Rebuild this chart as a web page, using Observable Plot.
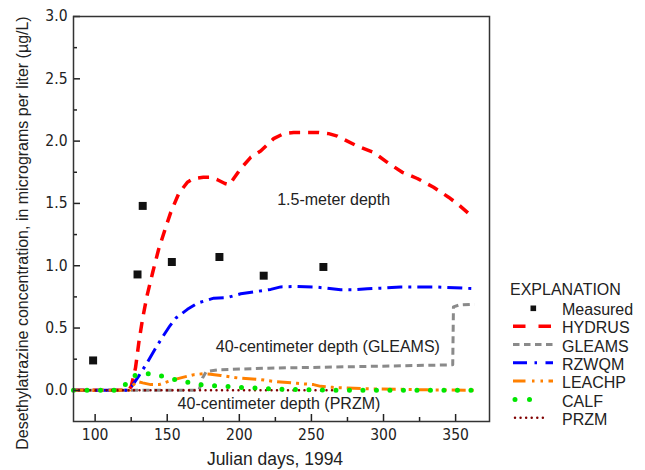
<!DOCTYPE html>
<html><head><meta charset="utf-8">
<script src="https://cdn.jsdelivr.net/npm/d3@7"></script>
<script src="https://cdn.jsdelivr.net/npm/@observablehq/plot@0.6"></script>
<style>
body{margin:0;background:#fff;}
#wrap{position:relative;width:645px;height:470px;}
#wrap svg{position:absolute;left:0;top:0;}
</style></head><body><div id="wrap"></div>
<script>
// ---- data (Julian day, concentration in µg/L) ----
const measuredDay  = [98.6, 129.4, 133.0, 153.2, 186.2, 216.9, 258.3];
const measuredConc = [0.24, 0.93, 1.48, 1.03, 1.07, 0.92, 0.99];

const hydrus = [[85,0],[123,0],[125,0.03],[128,0.18],[130.5,0.40],[133,0.58],[136,0.76],[140,0.95],[144,1.13],[149,1.31],[152.5,1.43],[158,1.58],[164,1.67],[168.4,1.70],[175,1.71],[180.2,1.71],[184.8,1.69],[190,1.66],[193,1.65],[196.1,1.70],[201,1.78],[207.9,1.87],[214.8,1.92],[223.8,2.02],[230.8,2.06],[237.7,2.07],[255,2.07],[262,2.06],[268,2.04],[281.8,1.96],[293.1,1.91],[302.6,1.83],[313,1.75],[323.4,1.70],[334.7,1.63],[345.1,1.55],[352,1.49],[359,1.42]];
const gleams = [[85,0],[172,0],[174.5,0.10],[177,0.15],[185,0.165],[220,0.178],[280,0.19],[348,0.205],[348.5,0.67],[352.3,0.684],[360.4,0.69],[363,0.69]];
const rzwqm  = [[85,0],[123.5,0],[130,0.11],[136,0.22],[142,0.34],[148,0.45],[152,0.52],[156,0.58],[164,0.65],[171,0.70],[182.3,0.74],[191.8,0.745],[201,0.775],[210,0.79],[221.8,0.81],[228.7,0.83],[240.3,0.834],[251.6,0.83],[261,0.82],[270.3,0.807],[279.3,0.807],[288.8,0.815],[298,0.82],[311.9,0.83],[334.7,0.83],[344.2,0.826],[365,0.815]];
const leachp = [[85,0],[124,0],[126,0.04],[129.4,0.07],[133,0.06],[138.6,0.046],[144.4,0.046],[147.8,0.06],[153,0.08],[159.4,0.10],[162.8,0.11],[168.6,0.126],[175,0.133],[180,0.13],[187,0.12],[198.7,0.10],[214.8,0.086],[223.8,0.072],[240,0.056],[251.5,0.046],[256.4,0.032],[265,0.024],[275,0.018],[290,0.012],[311.9,0.008],[330,0.004],[365,0]];
const calf   = [[85,0],[116,0],[119,0.02],[122,0.06],[125.9,0.11],[130,0.13],[135.1,0.135],[140,0.128],[144.8,0.118],[154,0.09],[163.5,0.067],[172.8,0.046],[182,0.038],[191.8,0.032],[201,0.024],[210.2,0.019],[219.5,0.012],[238,0.007],[265,0.002],[280,0],[365,0]];
const przm   = [[85,0],[267,0]];

const xMajor = [100, 150, 200, 250, 300, 350];
const xMinor = [125, 175, 225, 275, 325];
const yMajor = [0, 0.5, 1.0, 1.5, 2.0, 2.5, 3.0];
const yMinor = [0.25, 0.75, 1.25, 1.75, 2.25, 2.75];

const annotText = ["1.5-meter depth", "40-centimeter depth (GLEAMS)", "40-centimeter depth (PRZM)"];
const annotDay  = [265.4, 261.4, 227.5];
const annotConc = [1.53, 0.35, -0.105];

const xTitle = "Julian days, 1994";
const yTitle = "Desethylatrazine concentration, in micrograms per liter (µg/L)";
const legendTitle = "EXPLANATION";
const legendNames = ["Measured", "HYDRUS", "GLEAMS", "RZWQM", "LEACHP", "CALF", "PRZM"];

// ---- styles ----
const seriesData = {HYDRUS: hydrus, GLEAMS: gleams, RZWQM: rzwqm, LEACHP: leachp, PRZM: przm, CALF: calf};
const styles = {
  HYDRUS: {stroke: "#ff0000", w: 3.5, dash: "11,8", ldash: "12.5,13", cap: "butt", l2: 552},
  GLEAMS: {stroke: "#8a8a8a", w: 3, dash: "7,4.5", ldash: "6.5,4.5", cap: "butt", l2: 553},
  RZWQM:  {stroke: "#0000ff", w: 3, dash: "15,6,3,6", ldash: "14,7.5,2.5,8.5", cap: "butt", l2: 553},
  LEACHP: {stroke: "#ff8000", w: 3, dash: "14,5,3,5,3,5", ldash: "12.5,6.5,2.5,6,2.5,5.5", cap: "butt", l2: 553},
  CALF:   {stroke: "#00e600", w: 5, dash: "0,13.5", ldash: "0,14.5", cap: "round", l2: 543},
  PRZM:   {stroke: "#800000", w: 2.5, dash: "0,5.5", ldash: "0,5.57", cap: "round", l2: 547}
};

const W = 645, H = 470, mt = 16, mb = 49, ml = 73, mr = 156;
const fh = H - mt - mb, fw = W - ml - mr;
const font = "'Liberation Sans', Arial, sans-serif";
const narrow = "'Liberation Sans Narrow', 'Arial Narrow', 'DejaVu Sans Condensed', sans-serif";

const lineMarks = ["HYDRUS", "GLEAMS", "RZWQM", "LEACHP", "PRZM", "CALF"].map(k =>
  Plot.line(seriesData[k], {x: d => d[0], y: d => d[1], stroke: styles[k].stroke, strokeWidth: styles[k].w,
    strokeDasharray: styles[k].dash, strokeLinecap: styles[k].cap, strokeLinejoin: "round"}));

const measured = measuredDay.map((d, i) => ({day: d, conc: measuredConc[i]}));
const annots = annotText.map((t, i) => ({t, day: annotDay[i], conc: annotConc[i]}));

const plot = Plot.plot({
  width: W, height: H, marginTop: mt, marginBottom: mb, marginLeft: ml, marginRight: mr,
  style: {fontFamily: font, fontSize: "16px", background: "transparent", color: "#222"},
  x: {domain: [85, 373.5], label: null},
  y: {domain: [-0.25, 3.0], label: null},
  marks: [
    ...lineMarks,
    Plot.dot(measured, {x: "day", y: "conc", symbol: "square", r: 4.5, fill: "#111", stroke: null}),
    Plot.text(annots, {x: "day", y: "conc", text: "t", fontSize: 16, fill: "#222"}),
    Plot.tickX(xMajor, {x: d => d, insetTop: fh - 7, stroke: "#222", strokeWidth: 1.5}),
    Plot.tickX(xMinor, {x: d => d, insetTop: fh - 4, stroke: "#222", strokeWidth: 1.5}),
    Plot.tickY(yMajor, {y: d => d, insetRight: fw - 7, stroke: "#222", strokeWidth: 1.5}),
    Plot.tickY(yMinor, {y: d => d, insetRight: fw - 4, stroke: "#222", strokeWidth: 1.5}),
    Plot.axisX({ticks: xMajor, tickSize: 0, tickPadding: 7.5, fontFamily: narrow, fontSize: 15.5, label: null}),
    Plot.axisY({ticks: yMajor, tickSize: 0, tickPadding: 6, tickFormat: d3.format(".1f"), fontFamily: narrow, fontSize: 15.5, label: null}),
    Plot.frame({stroke: "#333", strokeWidth: 1.5}),
    Plot.text([xTitle], {frameAnchor: "bottom", lineAnchor: "middle", textAnchor: "middle", dy: 38, dx: -6.5, text: d => d, fontSize: 17.5, fill: "#222"}),
    Plot.text([yTitle], {frameAnchor: "left", lineAnchor: "middle", textAnchor: "middle", rotate: -90, dx: -51, dy: 14, text: d => d, fontSize: 16, fill: "#222"})
  ]
});
document.getElementById("wrap").appendChild(plot);

// ---- legend ----
const lg = d3.select("#wrap").append("svg").attr("width", W).attr("height", H)
  .style("font-family", font).style("font-size", "16px").style("pointer-events", "none");
lg.append("text").attr("x", 510).attr("y", 295).attr("fill", "#222").text(legendTitle);
legendNames.forEach((name, i) => {
  const cy = 309.3 + i * 18.33;
  if (name === "Measured") {
    lg.append("rect").attr("x", 533.3 - 2.8).attr("y", cy - 1 - 2.8).attr("width", 5.6).attr("height", 5.6).attr("fill", "#111");
  } else {
    const s = styles[name];
    lg.append("line").attr("x1", s.cap === "round" ? 515 : 513).attr("x2", s.l2).attr("y1", cy - 1.5).attr("y2", cy - 1.5)
      .attr("stroke", s.stroke).attr("stroke-width", s.w).attr("stroke-dasharray", s.ldash).attr("stroke-linecap", s.cap);
  }
  lg.append("text").attr("x", 562).attr("y", cy + 5.7).attr("fill", "#222").text(name);
});
</script>
</body></html>
